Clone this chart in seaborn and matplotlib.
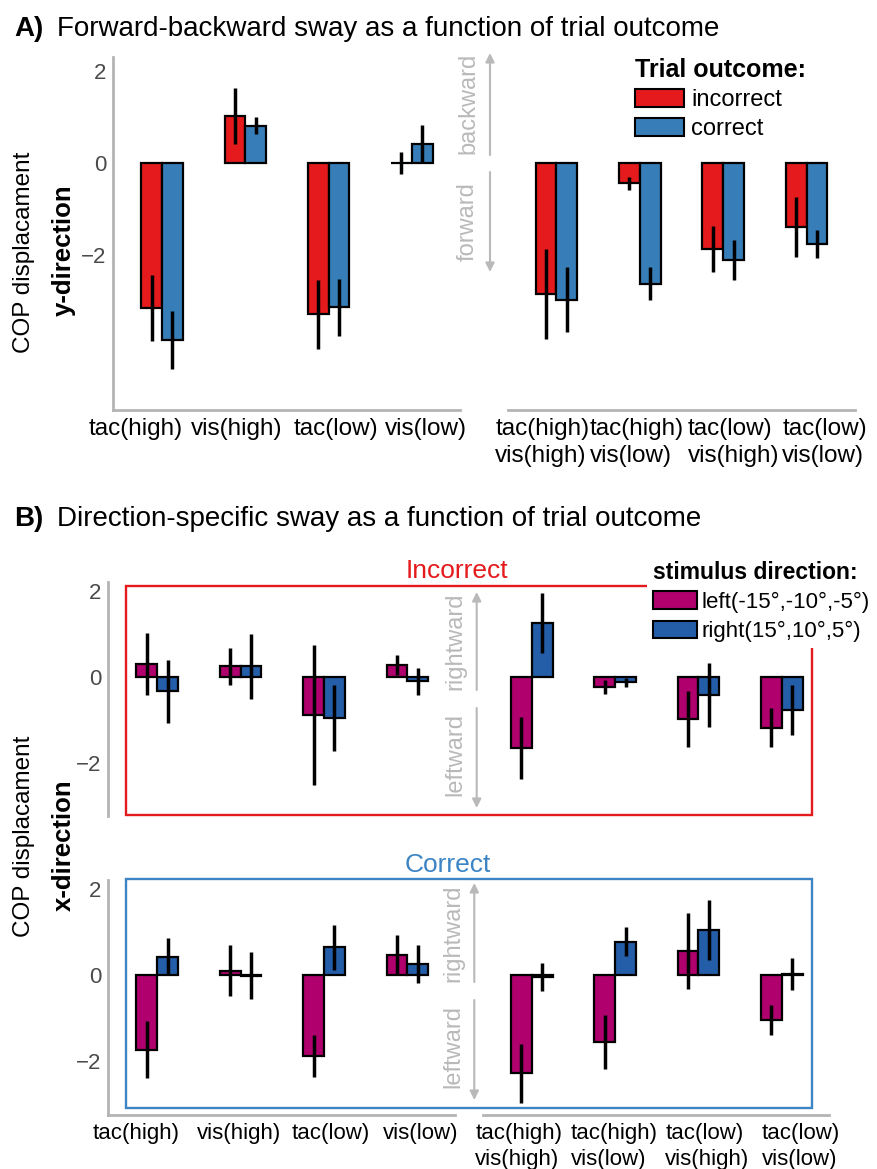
import numpy as np
import pandas as pd
import matplotlib
matplotlib.use("Agg")
import matplotlib.pyplot as plt
import seaborn as sns
from matplotlib.patches import Rectangle, Patch, FancyArrowPatch
from matplotlib.transforms import ScaledTranslation, blended_transform_factory

# ---------------------------------------------------------------- data
single_conds = ["tac(high)", "vis(high)", "tac(low)", "vis(low)"]
combo_conds = ["tac(high)\nvis(high)", "tac(high)\nvis(low)",
               "tac(low)\nvis(high)", "tac(low)\nvis(low)"]

outcomes = ["incorrect", "correct"]
directions = ["left(-15°,-10°,-5°)", "right(15°,10°,5°)"]

# A) forward-backward (y-direction) COP displacement, mean and error
ydir_incorrect_single = [-3.15, 1.03, -3.28, 0.00]
ydir_incorrect_single_err = [0.72, 0.60, 0.75, 0.24]
ydir_correct_single = [-3.83, 0.82, -3.13, 0.43]
ydir_correct_single_err = [0.63, 0.18, 0.62, 0.41]
ydir_incorrect_combo = [-2.84, -0.43, -1.87, -1.38]
ydir_incorrect_combo_err = [0.98, 0.14, 0.50, 0.65]
ydir_correct_combo = [-2.96, -2.62, -2.10, -1.75]
ydir_correct_combo_err = [0.71, 0.36, 0.43, 0.31]

# B) left-right (x-direction) COP displacement, incorrect trials
xdir_inc_left_single = [0.30, 0.25, -0.88, 0.29]
xdir_inc_left_single_err = [0.72, 0.42, 1.63, 0.23]
xdir_inc_right_single = [-0.33, 0.25, -0.94, -0.10]
xdir_inc_right_single_err = [0.74, 0.75, 0.77, 0.32]
xdir_inc_left_combo = [-1.64, -0.23, -0.98, -1.17]
xdir_inc_left_combo_err = [0.72, 0.17, 0.65, 0.45]
xdir_inc_right_combo = [1.26, -0.12, -0.41, -0.77]
xdir_inc_right_combo_err = [0.70, 0.11, 0.74, 0.58]

# B) left-right (x-direction) COP displacement, correct trials
xdir_cor_left_single = [-1.74, 0.10, -1.89, 0.47]
xdir_cor_left_single_err = [0.67, 0.60, 0.50, 0.47]
xdir_cor_right_single = [0.43, -0.02, 0.65, 0.25]
xdir_cor_right_single_err = [0.43, 0.55, 0.53, 0.44]
xdir_cor_left_combo = [-2.30, -1.57, 0.56, -1.05]
xdir_cor_left_combo_err = [0.69, 0.63, 0.88, 0.35]
xdir_cor_right_combo = [-0.05, 0.78, 1.05, 0.02]
xdir_cor_right_combo_err = [0.33, 0.34, 0.71, 0.37]

# ---------------------------------------------------------------- style
RED, BLUE = "#e41a1c", "#377eb8"
MAGENTA, DBLUE = "#af006e", "#245ea8"
AXGRAY = "#b4b4b4"
NOTEGRAY = "#b9b9b9"

sns.set_style("white")
plt.rcParams["font.family"] = ["Liberation Sans", "DejaVu Sans"]
plt.rcParams["text.color"] = "black"

W, H = 878, 1169
fig = plt.figure(figsize=(W / 100, H / 100), dpi=100)


def fx(x):
    return x / W


def fy(y):
    return 1 - y / H


def add_ax(x0, x1, ytop, ybot):
    return fig.add_axes([fx(x0), fy(ybot), (x1 - x0) / W, (ybot - ytop) / H])


def bar_pair(ax, cats, a, a_err, b, b_err, names, colors):
    df = pd.DataFrame({
        "cond": cats * 2,
        "group": [names[0]] * len(cats) + [names[1]] * len(cats),
        "value": list(a) + list(b),
    })
    sns.barplot(data=df, x="cond", y="value", hue="group", order=cats,
                hue_order=names, palette=colors, saturation=1, width=0.5,
                gap=0, edgecolor="black", linewidth=1.6, errorbar=None,
                legend=False, ax=ax)
    pos = np.arange(len(cats))
    ax.errorbar(pos - 0.125, a, yerr=a_err, fmt="none", ecolor="black",
                elinewidth=2.5, capsize=0, zorder=4)
    ax.errorbar(pos + 0.125, b, yerr=b_err, fmt="none", ecolor="black",
                elinewidth=2.5, capsize=0, zorder=4)


def style_ax(ax, xlim, ylim, left=True, bottom=True, yticks=None,
             yticklabels=None):
    ax.set_xlim(xlim)
    ax.set_ylim(ylim)
    ax.set_xlabel("")
    ax.set_ylabel("")
    ax.patch.set_visible(False)
    for s in ("top", "right"):
        ax.spines[s].set_visible(False)
    for s in ("left", "bottom"):
        ax.spines[s].set_color(AXGRAY)
        ax.spines[s].set_linewidth(2.0)
    ax.spines["left"].set_visible(left)
    ax.spines["bottom"].set_visible(bottom)
    ax.tick_params(axis="both", direction="in", length=5, width=1.6,
                   color=AXGRAY)
    ax.tick_params(axis="y", labelsize=16, labelcolor="#4a4a4a", pad=5)
    ax.tick_params(axis="x", labelbottom=False)
    if left:
        ax.set_yticks(yticks)
        ax.set_yticklabels(yticklabels)
    else:
        ax.tick_params(axis="y", left=False, labelleft=False)
    if not bottom:
        ax.tick_params(axis="x", bottom=False)


def cat_labels(ax, cats, offsets_px, size, drop_px=8):
    """Category labels hung below each tick, nudged sideways by a few pixels."""
    base = blended_transform_factory(ax.transData, ax.transAxes)
    for i, (lab, dx) in enumerate(zip(cats, offsets_px)):
        tr = base + ScaledTranslation(dx / 100, -drop_px / 100,
                                      fig.dpi_scale_trans)
        ax.text(i, 0, lab, transform=tr, ha="center", va="top",
                multialignment="left", fontsize=size, color="black",
                linespacing=1.3)


def arrow(x, y0, y1):
    fig.add_artist(FancyArrowPatch(
        (fx(x), fy(y0)), (fx(x), fy(y1)), transform=fig.transFigure,
        arrowstyle="-|>", mutation_scale=13, color=NOTEGRAY, lw=1.5,
        shrinkA=0, shrinkB=0))


def note(x, y, s):
    fig.text(fx(x), fy(y), s, rotation=90, ha="center", va="center",
             fontsize=17, color=NOTEGRAY)


# ---------------------------------------------------------------- panel A
A_YLIM = (-5.36, 2.31)
axA1 = add_ax(113, 460, 57, 410)
bar_pair(axA1, single_conds, ydir_incorrect_single, ydir_incorrect_single_err,
         ydir_correct_single, ydir_correct_single_err, outcomes, [RED, BLUE])
style_ax(axA1, (-0.59, 3.58), A_YLIM, yticks=[-4, -2, 0, 2],
         yticklabels=["", "\u22122", "0", "2"])
cat_labels(axA1, single_conds, [-26, -9, 7, 14], 17.5)

axA2 = add_ax(508, 855, 57, 410)
bar_pair(axA2, combo_conds, ydir_incorrect_combo, ydir_incorrect_combo_err,
         ydir_correct_combo, ydir_correct_combo_err, outcomes, [RED, BLUE])
style_ax(axA2, (-0.58, 3.58), A_YLIM, left=False)
cat_labels(axA2, combo_conds, [-14, -3, 10, 18], 17.5)

arrow(490, 155, 53)
arrow(490, 172, 272)
note(468, 103, "backward")
note(468, 222, "forward")

fig.legend(handles=[Patch(facecolor=RED, edgecolor="black", lw=1.5, label=outcomes[0]),
                    Patch(facecolor=BLUE, edgecolor="black", lw=1.5, label=outcomes[1])],
           loc="upper left", bbox_to_anchor=(fx(630), fy(53)),
           title="Trial outcome:",
           title_fontproperties={"weight": "bold", "size": 18},
           fontsize=17, frameon=False, handlelength=2.1, handleheight=0.8,
           handletextpad=0.3, labelspacing=0.3, borderpad=0.2,
           borderaxespad=0, alignment="left")

# ---------------------------------------------------------------- panel B
B_XLIM = (-0.59, 3.57)
axB1 = add_ax(108, 455, 581.7, 815.7)
bar_pair(axB1, single_conds, xdir_inc_left_single, xdir_inc_left_single_err,
         xdir_inc_right_single, xdir_inc_right_single_err, directions,
         [MAGENTA, DBLUE])
style_ax(axB1, B_XLIM, (-3.22, 2.22), bottom=False, yticks=[-2, 0, 2],
         yticklabels=["\u22122", "0", "2"])

axB2 = add_ax(482.7, 829.3, 581.7, 815.7)
bar_pair(axB2, combo_conds, xdir_inc_left_combo, xdir_inc_left_combo_err,
         xdir_inc_right_combo, xdir_inc_right_combo_err, directions,
         [MAGENTA, DBLUE])
style_ax(axB2, B_XLIM, (-3.22, 2.22), left=False, bottom=False)

axB3 = add_ax(108, 455, 880, 1115)
bar_pair(axB3, single_conds, xdir_cor_left_single, xdir_cor_left_single_err,
         xdir_cor_right_single, xdir_cor_right_single_err, directions,
         [MAGENTA, DBLUE])
style_ax(axB3, B_XLIM, (-3.27, 2.22), yticks=[-2, 0, 2],
         yticklabels=["\u22122", "0", "2"])
cat_labels(axB3, single_conds, [-21, -2, 7, 13], 16)

axB4 = add_ax(482.7, 829.3, 880, 1115)
bar_pair(axB4, combo_conds, xdir_cor_left_combo, xdir_cor_left_combo_err,
         xdir_cor_right_combo, xdir_cor_right_combo_err, directions,
         [MAGENTA, DBLUE])
style_ax(axB4, B_XLIM, (-3.27, 2.22), left=False)
cat_labels(axB4, combo_conds, [-13, -1, 9, 19], 16)

# frames around the outcome groups
fig.add_artist(Rectangle((fx(126), fy(815)), (811.7 - 126) / W, (815 - 586) / H,
                         transform=fig.transFigure, fill=False,
                         edgecolor="#e41a1c", lw=1.7, zorder=1))
fig.add_artist(Rectangle((fx(126), fy(1107.7)), (811.7 - 126) / W,
                         (1107.7 - 879) / H, transform=fig.transFigure,
                         fill=False, edgecolor="#3d84c4", lw=1.7, zorder=1))
fig.text(fx(457), fy(578), "Incorrect", ha="center", va="baseline",
         fontsize=19, color="#e41a1c")
fig.text(fx(448), fy(872), "Correct", ha="center", va="baseline",
         fontsize=19, color="#3d84c4")

arrow(476.7, 690, 592)
arrow(476.7, 708, 808)
note(455, 641, "rightward")
note(455, 755, "leftward")
arrow(474.3, 982, 883)
arrow(474.3, 1000, 1100)
note(453, 933, "rightward")
note(453, 1047, "leftward")

fig.legend(handles=[Patch(facecolor=MAGENTA, edgecolor="black", lw=1.5, label=directions[0]),
                    Patch(facecolor=DBLUE, edgecolor="black", lw=1.5, label=directions[1])],
           loc="upper left", bbox_to_anchor=(fx(647), fy(555)),
           title="stimulus direction:",
           title_fontproperties={"weight": "bold", "size": 16.5},
           fontsize=16, frameon=True, facecolor="white", edgecolor="none",
           framealpha=1, fancybox=False, handlelength=2.0, handleheight=0.85,
           handletextpad=0.2, labelspacing=0.35, borderpad=0.25,
           borderaxespad=0, alignment="left")

# ---------------------------------------------------------------- titles
fig.text(fx(14), fy(36), "A)", fontsize=20, fontweight="bold", va="baseline")
fig.text(fx(57), fy(36), "Forward-backward sway as a function of trial outcome",
         fontsize=20, va="baseline")
fig.text(fx(14), fy(526), "B)", fontsize=20, fontweight="bold", va="baseline")
fig.text(fx(57), fy(526), "Direction-specific sway as a function of trial outcome",
         fontsize=20, va="baseline")

fig.text(fx(24), fy(252), "COP displacament", rotation=90, ha="center",
         va="center", fontsize=17.5)
fig.text(fx(64), fy(250), "y-direction", rotation=90, ha="center",
         va="center", fontsize=18.5, fontweight="bold")
fig.text(fx(24), fy(836), "COP displacament", rotation=90, ha="center",
         va="center", fontsize=17.5)
fig.text(fx(64), fy(845), "x-direction", rotation=90, ha="center",
         va="center", fontsize=18.5, fontweight="bold")

fig.savefig("out.png", dpi=100)
